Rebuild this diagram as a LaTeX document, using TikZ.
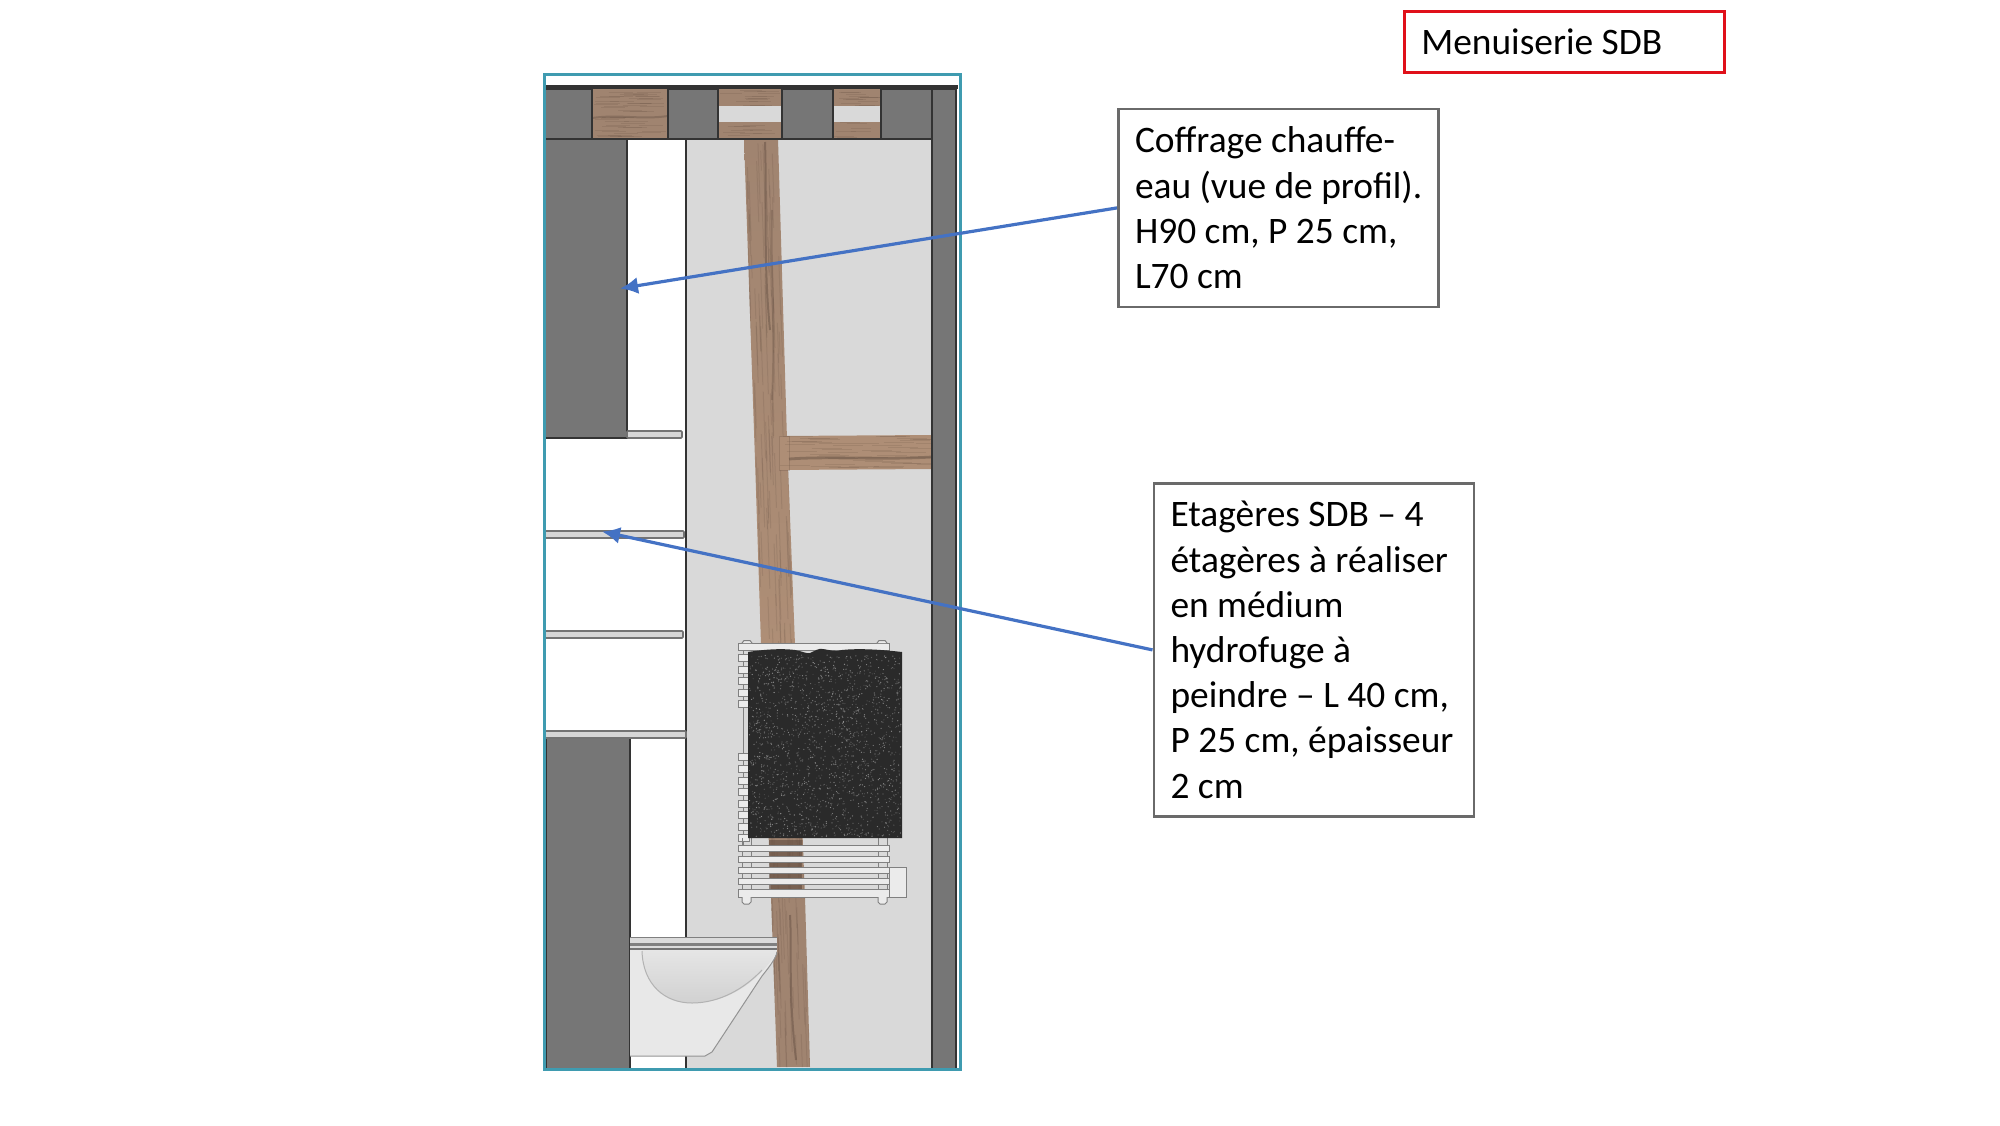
\documentclass[tikz,border=0pt]{standalone}
\usepackage{fontspec}
\setmainfont{Carlito}
\usetikzlibrary{arrows.meta}
\definecolor{wallgray}{HTML}{767676}
\definecolor{roombg}{HTML}{D9D9D9}
\definecolor{woodmid}{HTML}{A08470}
\definecolor{woodlite}{HTML}{AE8E76}
\definecolor{wooddark}{HTML}{5E4A3E}
\definecolor{edgedark}{HTML}{333333}
\definecolor{frameteal}{HTML}{3F9BB0}
\definecolor{arrowblue}{HTML}{4472C4}
\definecolor{boxgray}{HTML}{6A6A6A}
\definecolor{titlered}{HTML}{E0101A}
\definecolor{shelfgray}{HTML}{D6D6D6}
\definecolor{towel}{HTML}{2A2A2A}
\newcommand{\firstline}[1]{\makebox[143.4pt][l]{#1}}
\tikzset{
  wall/.style={fill=wallgray,draw=edgedark,line width=0.6pt},
  shelfbar/.style={fill=shelfgray,draw=gray!90!black,line width=0.8pt,rounded corners=0.5pt},
  radbar/.style={fill=white!92!black,draw=gray,line width=0.5pt},
  streak/.style={draw=wooddark,line width=1pt,opacity=0.45},
  grain/.style={draw=wooddark,line width=0.5pt,opacity=0.16},
  note/.style={draw=boxgray,line width=1.4pt,fill=white,anchor=north west,align=left,font=\fontsize{18.7}{22.6}\selectfont,inner xsep=8.3pt,inner ysep=0pt},
  leader/.style={draw=arrowblue,line width=1.6pt,-{Latex[length=9pt,width=8.5pt]}},
}
\begin{document}
\begin{tikzpicture}[x=0.5pt,y=-0.5pt]
\useasboundingbox (0,0) rectangle (2000,1125);
\pgfmathsetseed{4242}
% room background
\fill[roombg] (686,139) rectangle (932,1069);
\draw[edgedark,line width=0.6pt] (686,139) -- (686,1069);
% wooden post
\begin{scope}
\clip (744,139) -- (755,460) -- (761,645) -- (771,897) -- (777,1067) -- (810,1067) -- (805,897) -- (795,645) -- (787,440) -- (778,139) -- cycle;
\shade[top color=woodmid,bottom color=woodlite] (740,139) rectangle (800,650);
\fill[woodmid] (750,650) rectangle (815,1067);
\foreach \i in {1,...,170}{
  \pgfmathsetmacro{\gy}{139+900*rnd}
  \pgfmathsetmacro{\gx}{744+(\gy-139)*0.035+34*rnd}
  \pgfmathsetmacro{\gl}{20+50*rnd}
  \draw[grain] (\gx,\gy) -- ({\gx+\gl*0.035},{\gy+\gl});
}
\draw[streak] (765,142) .. controls (767,200) and (763,260) .. (770,330);
\draw[streak,opacity=0.3] (772,210) .. controls (770,270) and (776,320) .. (772,400);
\draw[streak] (790,915) .. controls (792,950) and (788,990) .. (796,1060);
\end{scope}
% crosspiece
\begin{scope}
\clip (779,436) -- (932,435) -- (932,469) -- (779,470) -- cycle;
\fill[woodlite] (779,430) rectangle (932,475);
\foreach \i in {1,...,50}{
  \pgfmathsetmacro{\gy}{436+32*rnd}
  \pgfmathsetmacro{\gx}{779+140*rnd}
  \draw[grain] (\gx,\gy) -- ({\gx+30},\gy);
}
\draw[streak,line width=1.4pt] (789,459) .. controls (830,456) and (880,460) .. (932,457);
\end{scope}
\draw[wooddark,opacity=0.25,line width=0.5pt] (779,436) rectangle (789,470);
% ceiling strip
\fill[woodmid] (592,89) rectangle (668,139);
\fill[woodmid] (718,89) rectangle (782,139);
\fill[woodmid] (833,89) rectangle (881,139);
\foreach \i in {1,...,50}{
  \pgfmathsetmacro{\gy}{90+48*rnd}
  \pgfmathsetmacro{\gx}{593+50*rnd}
  \draw[grain] (\gx,\gy) -- ({\gx+24},\gy);
}
\foreach \i in {1,...,35}{
  \pgfmathsetmacro{\gy}{90+48*rnd}
  \pgfmathsetmacro{\gx}{719+40*rnd}
  \draw[grain] (\gx,\gy) -- ({\gx+22},\gy);
}
\foreach \i in {1,...,30}{
  \pgfmathsetmacro{\gy}{90+48*rnd}
  \pgfmathsetmacro{\gx}{834+26*rnd}
  \draw[grain] (\gx,\gy) -- ({\gx+20},\gy);
}
\fill[roombg] (718,106) rectangle (782,122);
\fill[roombg] (833,106) rectangle (881,122);
\draw[streak,opacity=0.35] (592,118) .. controls (620,114) and (640,120) .. (668,116);
\draw[wall] (544,89) rectangle (592,139);
\draw[wall] (668,89) rectangle (718,139);
\draw[wall] (782,89) rectangle (833,139);
\draw[wall] (881,89) rectangle (932,139);
\draw[edgedark,line width=0.6pt] (592,139) -- (668,139) (718,139) -- (782,139) (833,139) -- (881,139);
\fill[edgedark] (544,85) rectangle (958,89);
% right wall
\draw[wall] (932,89) rectangle (956,1069);
% left cabinets
\draw[wall] (544,139) rectangle (627,438);
\draw[wall] (546,738) rectangle (630,1069);
% shelves
\draw[shelfbar] (627,431) rectangle (682,438);
\draw[shelfbar] (544,531) rectangle (684,538);
\draw[shelfbar] (544,631) rectangle (683,638);
\draw[shelfbar] (544,731) rectangle (686,738);
% radiator
\draw[gray,line width=0.5pt] (743,650) -- (743,845);
\foreach \sy in {654,666,677,689,700,753,765,777,788,800,811,823,834}
  \draw[radbar] (738,\sy) rectangle (749,\sy+7);
\fill[wooddark,opacity=0.6] (769,840) rectangle (802,890);
\foreach \tx in {742,751,878,887}
  \draw[gray,line width=0.5pt] (\tx,838) -- (\tx,897);
\draw[radbar] (889,867) rectangle (906,897);
\foreach \by in {845,856,867,878}
  \draw[radbar] (738,\by) rectangle (889,\by+6.5);
\draw[radbar] (738,889) rectangle (889,897);
\draw[radbar] (742,897) -- (742,902) -- (744,904) -- (749,904) -- (751,902) -- (751,897);
\draw[radbar] (878,897) -- (878,902) -- (880,904) -- (885,904) -- (887,902) -- (887,897);
\draw[radbar] (738,643) rectangle (889,650);
\draw[radbar] (742,643) -- (744,640.5) -- (750,640.5) -- (752,643);
\draw[radbar] (877,643) -- (879,640.5) -- (885,640.5) -- (887,643);
% towel
\fill[towel] (748,652) .. controls (760,650) and (780,648) .. (795,650) .. controls (802,651) and (806,654) .. (810,653) .. controls (815,651) and (818,648) .. (823,649) .. controls (830,650) and (835,652) .. (842,650) .. controls (860,648) and (885,650) .. (902,652) -- (902,838) -- (748,838) -- cycle;
\foreach \i in {1,...,1800}{
  \pgfmathsetmacro{\dx}{749+152*rnd}
  \pgfmathsetmacro{\dy}{655+182*rnd}
  \pgfmathsetmacro{\dc}{10+38*rnd}
  \fill[white!\dc!towel] (\dx,\dy) circle[radius=0.65];
}
% toilet
\fill[white!91!black] (630,950) -- (777,950) .. controls (776,958) and (770,966) .. (762,976) -- (712,1052) -- (705,1056) -- (630,1056) -- cycle;
\draw[gray!85,line width=0.5pt] (777,952) .. controls (776,958) and (770,966) .. (762,976) -- (712,1052) -- (705,1056) -- (630,1056);
\shade[top color=white!90!black,bottom color=white!82!black] (642,950) .. controls (643,985) and (665,1003) .. (692,1003) .. controls (725,1003) and (755,985) .. (775,955) -- (776,950) -- cycle;
\draw[gray!60,line width=0.5pt] (642,951) .. controls (643,985) and (665,1003) .. (692,1003) .. controls (720,1003) and (745,988) .. (762,970);
\fill[white!86!black] (630,937) rectangle (777,950);
\fill[gray] (630,943) rectangle (777,945.5);
\fill[gray!90!black] (630,948) rectangle (777,950);
\draw[gray,line width=0.4pt] (630,937) -- (777,937);
% frame
\draw[frameteal,line width=1.5pt] (544,74) rectangle (960,1069);
% notes
\node[note,minimum height=99pt] (box1) at (1117,107.5) {\firstline{Coffrage chauffe-}\\eau (vue de profil).\\H90 cm, P 25 cm,\\L70 cm};
\node[note,minimum height=166.5pt] (box2) at (1152.5,482) {\firstline{Etagères SDB – 4}\\étagères à réaliser\\en médium\\hydrofuge à\\peindre – L 40 cm,\\P 25 cm, épaisseur\\2 cm};
\node[note,draw=titlered,line width=1.7pt,minimum height=30.5pt] (title) at (1403,9.5) {\firstline{Menuiserie SDB}};
\coordinate (tipA) at (620,288.5);
\coordinate (tipB) at (602,531.5);
\draw[leader] (box1.west) -- (tipA);
\draw[leader] (box2.west) -- (tipB);
\end{tikzpicture}
\end{document}
